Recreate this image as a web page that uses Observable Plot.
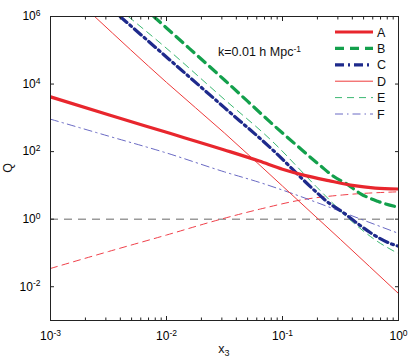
<!DOCTYPE html>
<html><head><meta charset="utf-8">
<script src="https://cdn.jsdelivr.net/npm/d3@7"></script>
<script src="https://cdn.jsdelivr.net/npm/@observablehq/plot@0.6"></script>
<style>
body{margin:0;background:#fff}
#chart svg{font-family:"Liberation Sans",Arial,Helvetica,sans-serif;background:#fff;overflow:visible}
</style>
</head><body><div id="chart"></div>
<script>
// ---- data (x3, Q) ----
const xA = [0.001, 0.00316, 0.01, 0.0316, 0.063, 0.1, 0.158, 0.25, 0.4, 0.63, 1];
const qA = [4170, 1230, 372, 112, 52.5, 30.2, 19.5, 13.8, 10, 8.3, 7.8];
const xB = [0.00776, 0.01, 0.0316, 0.1, 0.135, 0.214, 0.275, 0.363, 0.468, 0.661, 1];
const qB = [1e6, 457000, 13200, 355, 145, 37.2, 18.6, 10.7, 5.75, 3.39, 2.24];
const xC = [0.00398, 0.00933, 0.0316, 0.0813, 0.186, 0.24, 0.339, 0.452, 0.603, 0.851, 1];
const qC = [1e6, 77600, 2000, 117, 7.41, 3.39, 1.51, 0.708, 0.355, 0.19, 0.158];
const xD = [0.0024, 0.01, 0.0316, 0.1, 0.204, 0.316, 0.562, 1];
const qD = [1e6, 11200, 355, 9.55, 1, 0.251, 0.0398, 0.0063];
const xE = [0.00468, 0.00933, 0.0316, 0.0832, 0.2, 0.407, 0.646, 1];
const qE = [1e6, 140000, 3500, 190, 8.5, 0.794, 0.229, 0.0955];
const xF = [0.001, 0.00316, 0.01, 0.0316, 0.0646, 0.126, 0.251, 0.501, 1];
const qF = [912, 288, 91.2, 25.1, 12.0, 5.5, 2.29, 0.93, 0.38];
const xG = [0.001, 0.00316, 0.01, 0.0295, 0.0646, 0.151, 0.339, 1];
const qG = [0.0347, 0.11, 0.339, 1, 2.0, 3.8, 5.25, 6.46];
const refLine = [1];

const seriesNames = ["A", "B", "C", "D", "E", "F"];
const xMajor = [1e-3, 1e-2, 1e-1, 1];
const xMinor = [2,3,4,5,6,7,8,9].flatMap(m => [1e-3, 1e-2, 1e-1].map(d => m * d));
const yMajor = [1e-2, 1, 1e2, 1e4, 1e6];
const xLabel = ["x", "3"];
const yLabel = "Q";
const annotation = ["k=0.01 h Mpc", "-1"];

// ---- styles ----
const styles = {
  A: {stroke: "#e8262d", strokeWidth: 3.2, strokeDasharray: null},
  B: {stroke: "#13a04c", strokeWidth: 3.2, strokeDasharray: "9,6"},
  C: {stroke: "#1e2a8c", strokeWidth: 3.2, strokeDasharray: "9,4,2,4"},
  D: {stroke: "#ee3a3a", strokeWidth: 1, strokeDasharray: null},
  E: {stroke: "#3cb872", strokeWidth: 1, strokeDasharray: "7,5"},
  F: {stroke: "#6a6ac4", strokeWidth: 1, strokeDasharray: "8,4,1.5,4"},
  G: {stroke: "#f0404a", strokeWidth: 1, strokeDasharray: "7,5"}
};
const series = {A: [xA, qA], B: [xB, qB], C: [xC, qC], D: [xD, qD], E: [xE, qE], F: [xF, qF], G: [xG, qG]};
const toRows = ([xs, qs]) => xs.map((x, i) => ({x, q: qs[i]}));

const lineMarks = ["G", "F", "E", "D", "C", "B", "A"].map(k =>
  Plot.line(toRows(series[k]), {x: "x", y: "q", curve: "monotone-x", clip: true, ...styles[k]})
);

const sup = d => `10^${Math.round(Math.log10(d))}`;
const axisColor = "#222";

const chart = Plot.plot({
  width: 413, height: 362,
  marginLeft: 50, marginRight: 15, marginTop: 16, marginBottom: 42,
  x: {type: "log", domain: [1e-3, 1]},
  y: {type: "log", domain: [1e-3, 1e6]},
  marks: [
    Plot.ruleY(refLine, {stroke: "#9a9a9a", strokeWidth: 1.5, strokeDasharray: "8,6"}),
    ...lineMarks,
    Plot.axisX({anchor: "bottom", ticks: xMajor, tickSize: 0, tickPadding: 11, tickFormat: sup, label: null, fontSize: 12, stroke: axisColor}),
    Plot.axisX({anchor: "bottom", ticks: xMajor, tickSize: -4, tickFormat: () => "", label: null, stroke: axisColor}),
    Plot.axisX({anchor: "bottom", ticks: xMinor, tickSize: -2.5, tickFormat: () => "", label: null, stroke: axisColor}),
    Plot.axisX({anchor: "top", ticks: xMajor, tickSize: -4, tickFormat: () => "", label: null, stroke: axisColor}),
    Plot.axisX({anchor: "top", ticks: xMinor, tickSize: -2.5, tickFormat: () => "", label: null, stroke: axisColor}),
    Plot.axisY({anchor: "left", ticks: yMajor, tickSize: 0, tickPadding: 10, tickFormat: sup, label: null, fontSize: 12}),
    Plot.axisY({anchor: "left", ticks: yMajor, tickSize: -4, tickFormat: () => "", label: null, stroke: axisColor}),
    Plot.axisY({anchor: "right", ticks: yMajor, tickSize: -4, tickFormat: () => "", label: null, stroke: axisColor}),
    Plot.frame({stroke: axisColor, strokeWidth: 1})
  ]
});
document.getElementById("chart").append(chart);

const svg = d3.select(chart);
svg.style("font-size", "12px");

// superscript tick labels: "10^e" -> 10 with raised exponent
svg.selectAll('g[aria-label$="tick label"] text').each(function () {
  const t = this.textContent;
  if (!t.includes("^")) return;
  const [base, exp] = t.split("^");
  const el = d3.select(this);
  el.text(null);
  el.append("tspan").text(base);
  el.append("tspan").attr("dy", "-0.5em").attr("font-size", "8.5px").text(exp);
});

// axis titles
const fr = svg.select('[aria-label="frame"]').node().getBBox();
const cx = fr.x + fr.width / 2, cy = fr.y + fr.height / 2;
const xl = svg.append("text").attr("x", cx).attr("y", fr.y + fr.height + 33)
  .attr("text-anchor", "middle").attr("font-size", "12.5px").attr("fill", "#111");
xl.append("tspan").text(xLabel[0]);
xl.append("tspan").attr("dy", "0.35em").attr("font-size", "9px").text(xLabel[1]);
svg.append("text").attr("transform", `translate(${fr.x - 38},${cy}) rotate(-90)`)
  .attr("text-anchor", "middle").attr("font-size", "12.5px").attr("fill", "#111").text(yLabel);

// annotation
const an = svg.append("text").attr("x", fr.x + 168).attr("y", fr.y + 40)
  .attr("text-anchor", "start").attr("font-size", "12.5px").attr("fill", "#111");
an.append("tspan").text(annotation[0]);
an.append("tspan").attr("dy", "-0.45em").attr("font-size", "8.5px").text(annotation[1]);

// legend
const lg = svg.append("g").attr("transform", `translate(${fr.x + fr.width - 63},${fr.y + 16})`);
seriesNames.forEach((name, i) => {
  const s = styles[name];
  const row = lg.append("g").attr("transform", `translate(0,${i * 16.4})`);
  row.append("line").attr("x1", 0).attr("x2", 38).attr("y1", 0).attr("y2", 0)
    .attr("stroke", s.stroke).attr("stroke-width", s.strokeWidth)
    .attr("stroke-dasharray", s.strokeDasharray);
  row.append("text").attr("x", 42).attr("y", 4.5).attr("text-anchor", "start")
    .attr("font-size", "12.5px").attr("fill", "#111").text(name);
});
</script>
</body></html>
